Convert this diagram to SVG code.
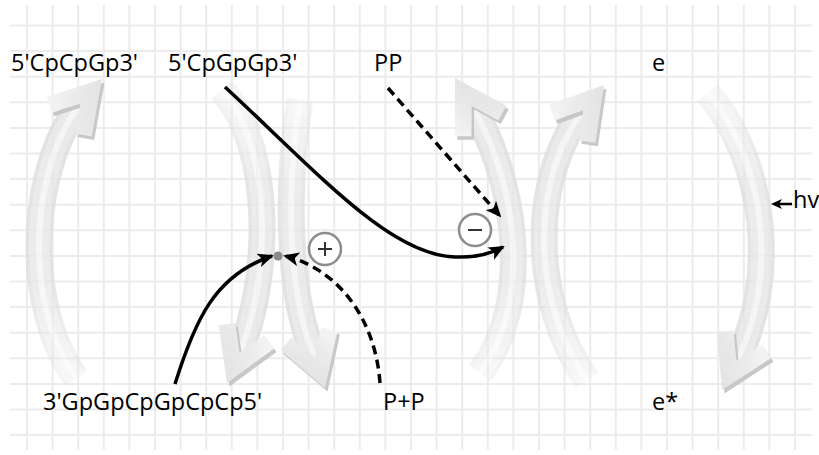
<svg xmlns="http://www.w3.org/2000/svg" width="819" height="455" viewBox="0 0 819 455">
  <defs>
    <style>
      .grid{fill:none;stroke:#ececec;stroke-width:2}
      .lbl{font-family:"Open Sans","Noto Sans","DejaVu Sans",sans-serif;font-size:23.5px;fill:#000}
      .band0{fill:none;stroke:#dddddd;stroke-width:27}
      .band1{fill:none;stroke:#e6e6e6;stroke-width:20}
      .band2{fill:none;stroke:#f3f3f3;stroke-width:6}
      .wire{fill:none;stroke:#000;stroke-width:3.5}
      .dash{stroke-dasharray:9 5.5}
      .ring{fill:#fff;stroke:#8c8c8c;stroke-width:2.5}
      .sym{fill:none;stroke:#333;stroke-width:2}
      .side{fill:#c4c4c4}
      .face{fill:url(#headFace)}
    </style>
    <linearGradient id="headFace" x1="0" y1="0" x2="1" y2="1">
      <stop offset="0" stop-color="#f6f6f6"/>
      <stop offset="1" stop-color="#dadada"/>
    </linearGradient>
    <!-- chevron arrowhead, tip at origin, pointing along +x -->
    <polygon id="chev" points="0,0 -50,-30 -58.6,-15.6 -32.6,0 -58.6,15.6 -50,30"/>
    <marker id="tip" markerUnits="userSpaceOnUse" markerWidth="16" markerHeight="14" viewBox="0 0 16 14" refX="14" refY="7" orient="auto">
      <path d="M0,0 L16,7 L0,14 L4,7 z" fill="#000"/>
    </marker>
    <!-- tail fades for the curved band arrows -->
    <linearGradient id="fA" gradientUnits="userSpaceOnUse" x1="76" y1="378" x2="83" y2="101">
      <stop offset="0" stop-color="#fff" stop-opacity="0.3"/><stop offset="0.35" stop-color="#fff" stop-opacity="0.75"/><stop offset="1" stop-color="#fff" stop-opacity="0.85"/>
    </linearGradient>
    <linearGradient id="fB" gradientUnits="userSpaceOnUse" x1="222" y1="90" x2="238" y2="356">
      <stop offset="0" stop-color="#fff" stop-opacity="0.3"/><stop offset="0.35" stop-color="#fff" stop-opacity="0.75"/><stop offset="1" stop-color="#fff" stop-opacity="0.85"/>
    </linearGradient>
    <linearGradient id="fB2" gradientUnits="userSpaceOnUse" x1="300" y1="100" x2="316" y2="360">
      <stop offset="0" stop-color="#fff" stop-opacity="0.3"/><stop offset="0.35" stop-color="#fff" stop-opacity="0.75"/><stop offset="1" stop-color="#fff" stop-opacity="0.85"/>
    </linearGradient>
    <linearGradient id="fC" gradientUnits="userSpaceOnUse" x1="480" y1="373" x2="470" y2="103">
      <stop offset="0" stop-color="#fff" stop-opacity="0.3"/><stop offset="0.35" stop-color="#fff" stop-opacity="0.75"/><stop offset="1" stop-color="#fff" stop-opacity="0.85"/>
    </linearGradient>
    <linearGradient id="fD" gradientUnits="userSpaceOnUse" x1="587" y1="380" x2="586" y2="107">
      <stop offset="0" stop-color="#fff" stop-opacity="0.3"/><stop offset="0.35" stop-color="#fff" stop-opacity="0.75"/><stop offset="1" stop-color="#fff" stop-opacity="0.85"/>
    </linearGradient>
    <linearGradient id="fE" gradientUnits="userSpaceOnUse" x1="708" y1="93" x2="735" y2="364">
      <stop offset="0" stop-color="#fff" stop-opacity="0.3"/><stop offset="0.35" stop-color="#fff" stop-opacity="0.75"/><stop offset="1" stop-color="#fff" stop-opacity="0.85"/>
    </linearGradient>
    <mask id="mA" maskUnits="userSpaceOnUse" x="0" y="0" width="819" height="455"><rect width="819" height="455" fill="url(#fA)"/></mask>
    <mask id="mB" maskUnits="userSpaceOnUse" x="0" y="0" width="819" height="455"><rect width="819" height="455" fill="url(#fB)"/></mask>
    <mask id="mB2" maskUnits="userSpaceOnUse" x="0" y="0" width="819" height="455"><rect width="819" height="455" fill="url(#fB2)"/></mask>
    <mask id="mC" maskUnits="userSpaceOnUse" x="0" y="0" width="819" height="455"><rect width="819" height="455" fill="url(#fC)"/></mask>
    <mask id="mD" maskUnits="userSpaceOnUse" x="0" y="0" width="819" height="455"><rect width="819" height="455" fill="url(#fD)"/></mask>
    <mask id="mE" maskUnits="userSpaceOnUse" x="0" y="0" width="819" height="455"><rect width="819" height="455" fill="url(#fE)"/></mask>
  </defs>

  <rect width="819" height="455" fill="#fff"/>

  <!-- squared paper -->
  <path class="grid" d="M27,5V450M52.6,5V450M78.2,5V450M103.8,5V450M129.4,5V450M155,5V450M180.6,5V450M206.2,5V450M231.8,5V450M257.4,5V450M283,5V450M308.6,5V450M334.2,5V450M359.8,5V450M385.4,5V450M411,5V450M436.6,5V450M462.2,5V450M487.8,5V450M513.4,5V450M539,5V450M564.6,5V450M590.2,5V450M615.8,5V450M641.4,5V450M667,5V450M692.6,5V450M718.2,5V450M743.8,5V450M769.4,5V450M795,5V450"/>
  <path class="grid" d="M10,25.5H812M10,51.1H812M10,76.7H812M10,102.3H812M10,127.9H812M10,153.5H812M10,179.1H812M10,204.7H812M10,230.3H812M10,255.9H812M10,281.5H812M10,307.1H812M10,332.7H812M10,358.3H812M10,383.9H812M10,409.5H812M10,435.1H812"/>

  <!-- curved band arrows -->
  <g id="arc-cpcpgp">
    <g mask="url(#mA)">
      <path class="band0" d="M76,378 C20,300 32,160 83,101"/>
      <path class="band1" d="M76,378 C20,300 32,160 83,101"/>
      <path class="band2" d="M76,378 C20,300 32,160 83,101"/>
    </g>
    <g transform="translate(102,79)" opacity="0.92">
      <use href="#chev" class="side" transform="translate(2.5,3.5) rotate(-48.85)"/>
      <use href="#chev" class="face" transform="rotate(-48.85)"/>
    </g>
  </g>

  <g id="arc-cpgpgp-left">
    <g mask="url(#mB)">
      <path class="band0" d="M222,90 C275,150 270,285 238,356"/>
      <path class="band1" d="M222,90 C275,150 270,285 238,356"/>
      <path class="band2" d="M222,90 C275,150 270,285 238,356"/>
    </g>
    <g transform="translate(227,383)" opacity="0.92">
      <use href="#chev" class="side" transform="translate(2.5,3.5) rotate(112.8)"/>
      <use href="#chev" class="face" transform="rotate(112.8)"/>
    </g>
  </g>

  <g id="arc-cpgpgp-right">
    <g mask="url(#mB2)">
      <path class="band0" d="M300,100 C288,170 284,290 316,360"/>
      <path class="band1" d="M300,100 C288,170 284,290 316,360"/>
      <path class="band2" d="M300,100 C288,170 284,290 316,360"/>
    </g>
    <g transform="translate(325,388)" opacity="0.92">
      <use href="#chev" class="side" transform="translate(2.5,3.5) rotate(71.4)"/>
      <use href="#chev" class="face" transform="rotate(71.4)"/>
    </g>
  </g>

  <g id="arc-pp-left">
    <g mask="url(#mC)">
      <path class="band0" d="M480,373 C535,300 515,175 470,103"/>
      <path class="band1" d="M480,373 C535,300 515,175 470,103"/>
      <path class="band2" d="M480,373 C535,300 515,175 470,103"/>
    </g>
    <g transform="translate(455,78)" opacity="0.92">
      <use href="#chev" class="side" transform="translate(2.5,3.5) rotate(-120.7)"/>
      <use href="#chev" class="face" transform="rotate(-120.7)"/>
    </g>
  </g>

  <g id="arc-pp-right">
    <g mask="url(#mD)">
      <path class="band0" d="M587,380 C530,300 530,175 586,107"/>
      <path class="band1" d="M587,380 C530,300 530,175 586,107"/>
      <path class="band2" d="M587,380 C530,300 530,175 586,107"/>
    </g>
    <g transform="translate(604,85)" opacity="0.92">
      <use href="#chev" class="side" transform="translate(2.5,3.5) rotate(-50.6)"/>
      <use href="#chev" class="face" transform="rotate(-50.6)"/>
    </g>
  </g>

  <g id="arc-excite">
    <g mask="url(#mE)">
      <path class="band0" d="M708,93 C765,160 780,280 735,364"/>
      <path class="band1" d="M708,93 C765,160 780,280 735,364"/>
      <path class="band2" d="M708,93 C765,160 780,280 735,364"/>
    </g>
    <g transform="translate(722,390)" opacity="0.92">
      <use href="#chev" class="side" transform="translate(2.5,3.5) rotate(116)"/>
      <use href="#chev" class="face" transform="rotate(116)"/>
    </g>
  </g>

  <!-- connectors -->
  <g id="connectors">
    <path class="wire" d="M225,87 C320,175 390,255 455,257 C478,258 492,253 503,247" marker-end="url(#tip)"/>
    <path class="wire dash" d="M388,88 L500,216" marker-end="url(#tip)"/>
    <path class="wire" d="M175,384 C195,320 215,275 272,256" marker-end="url(#tip)"/>
    <path class="wire dash" d="M380,383 C375,315 335,268 285,256" marker-end="url(#tip)"/>
    <path d="M792,204 H779" stroke="#000" stroke-width="2.5" fill="none"/>
    <polygon points="771,204 782,199 779,204 782,209" fill="#000"/>
  </g>

  <!-- junction and regulation signs -->
  <g id="junction"><circle cx="278" cy="256" r="4.5" fill="#8a8a8a"/></g>
  <g id="sign-plus">
    <circle class="ring" cx="325" cy="249" r="16"/>
    <path class="sym" d="M318,249H332M325,242V256"/>
  </g>
  <g id="sign-minus">
    <circle class="ring" cx="475" cy="230" r="16"/>
    <path class="sym" d="M468,230H482"/>
  </g>

  <!-- labels -->
  <g id="lbl-cpcpgp"><text class="lbl" x="11" y="71">5'CpCpGp3'</text></g>
  <g id="lbl-cpgpgp"><text class="lbl" x="168" y="71">5'CpGpGp3'</text></g>
  <g id="lbl-pp"><text class="lbl" x="374" y="71">PP</text></g>
  <g id="lbl-e"><text class="lbl" x="652" y="71">e</text></g>
  <g id="lbl-hv"><text class="lbl" x="793" y="208">hv</text></g>
  <g id="lbl-gpgp"><text class="lbl" x="43" y="410">3'GpGpCpGpCpCp5'</text></g>
  <g id="lbl-ppp"><text class="lbl" x="383" y="410">P+P</text></g>
  <g id="lbl-estar"><text class="lbl" x="652" y="410">e*</text></g>
</svg>
